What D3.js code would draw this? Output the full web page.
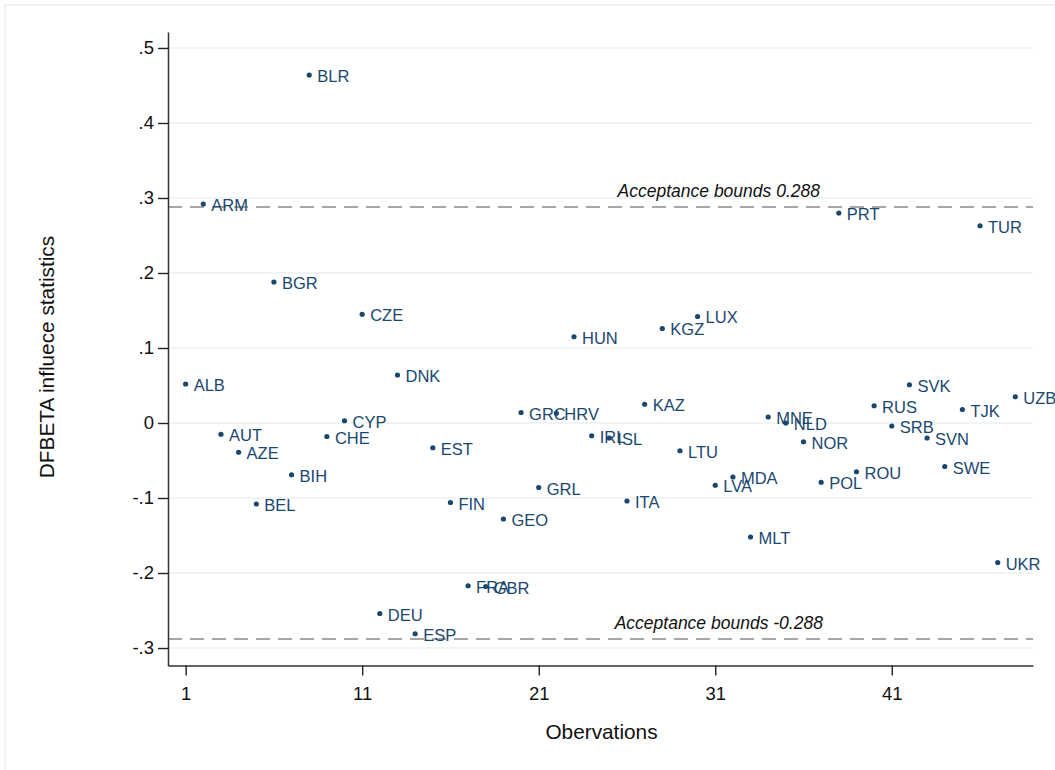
<!DOCTYPE html>
<html>
<head>
<meta charset="utf-8">
<script src="https://cdn.jsdelivr.net/npm/d3@7"></script>
<style>
  html, body { margin: 0; padding: 0; background: #fff; }
  svg { display: block; }
  text { font-family: "Liberation Sans", Arial, sans-serif; }
</style>
</head>
<body>
<svg id="chart" width="1055" height="770"></svg>
<script>
// ---- data ----
const countries = ["ALB","ARM","AUT","AZE","BEL","BGR","BIH","BLR","CHE","CYP",
  "CZE","DEU","DNK","ESP","EST","FIN","FRA","GBR","GEO","GRC",
  "GRL","HRV","HUN","IRL","ISL","ITA","KAZ","KGZ","LTU","LUX",
  "LVA","MDA","MLT","MNE","NLD","NOR","POL","PRT","ROU","RUS",
  "SRB","SVK","SVN","SWE","TJK","TUR","UKR","UZB"];
const observations = d3.range(1, countries.length + 1);
const dfbeta = [0.052, 0.292, -0.015, -0.039, -0.108, 0.188, -0.069, 0.464, -0.018, 0.003,
  0.145, -0.254, 0.064, -0.281, -0.033, -0.106, -0.217, -0.218, -0.128, 0.014,
  -0.086, 0.013, 0.115, -0.017, -0.020, -0.104, 0.025, 0.126, -0.037, 0.142,
  -0.083, -0.072, -0.152, 0.008, 0.000, -0.025, -0.079, 0.280, -0.065, 0.023,
  -0.004, 0.051, -0.020, -0.058, 0.018, 0.263, -0.186, 0.035];
const yTicks = [-0.3, -0.2, -0.1, 0, 0.1, 0.2, 0.3, 0.4, 0.5];
const yTickLabels = ["-.3", "-.2", "-.1", "0", ".1", ".2", ".3", ".4", ".5"];
const xTicks = [1, 11, 21, 31, 41];
const bounds = [0.288, -0.288];
const boundLabels = ["Acceptance bounds 0.288", "Acceptance bounds -0.288"];
const boundLabelX = 31.2;
const xTitle = "Obervations";
const yTitle = "DFBETA influece statistics";

// ---- layout ----
const svg = d3.select("#chart");
const mLeft = 168, mRight = 1033, mTop = 32, mBottom = 665.5;
const x = d3.scaleLinear().domain([0, 49]).range([mLeft, mRight]);
const y = d3.scaleLinear().domain([-0.3233, 0.5213]).range([mBottom, mTop]);
const navy = "#1a476f";

// outer frame
svg.append("rect").attr("x", 5).attr("y", 5).attr("width", 1100).attr("height", 800)
  .attr("fill", "none").attr("stroke", "#eaf0f4").attr("stroke-width", 1.6);

// gridlines
svg.append("g").selectAll("line").data(yTicks).join("line")
  .attr("x1", mLeft).attr("x2", mRight)
  .attr("y1", d => y(d)).attr("y2", d => y(d))
  .attr("stroke", "#eaf2f3").attr("stroke-width", 1.6);

// reference lines
svg.append("g").selectAll("line").data(bounds).join("line")
  .attr("x1", mLeft).attr("x2", mRight)
  .attr("y1", d => y(d)).attr("y2", d => y(d))
  .attr("stroke", "#8a8a8a").attr("stroke-width", 1.5)
  .attr("stroke-dasharray", "14,8");
svg.append("g").selectAll("text").data(bounds).join("text")
  .attr("x", x(boundLabelX)).attr("y", d => y(d) - 10)
  .attr("text-anchor", "middle").attr("font-style", "italic")
  .attr("font-size", 17.5).attr("fill", "#111")
  .text((d, i) => boundLabels[i]);

// axes
const yAxis = d3.axisLeft(y).tickValues(yTicks)
  .tickFormat(d => yTickLabels[yTicks.indexOf(d)])
  .tickSize(10).tickSizeOuter(0).tickPadding(4);
const gy = svg.append("g").attr("transform", `translate(${mLeft},0)`).call(yAxis);
const xAxis = d3.axisBottom(x).tickValues(xTicks).tickFormat(d3.format("d"))
  .tickSize(10).tickSizeOuter(0).tickPadding(11);
const gx = svg.append("g").attr("transform", `translate(0,${mBottom})`).call(xAxis);
[gx, gy].forEach(g => {
  g.select(".domain").attr("stroke", "#333").attr("stroke-width", 1.5);
  g.selectAll(".tick line").attr("stroke", "#222").attr("stroke-width", 1.4);
  g.selectAll(".tick text").attr("font-size", 18.5).attr("fill", "#111")
    .attr("font-family", "'Liberation Sans', Arial, sans-serif");
});

// axis titles
svg.append("text").attr("x", (mLeft + mRight) / 2 + 1).attr("y", 739)
  .attr("text-anchor", "middle").attr("font-size", 20.8).attr("fill", "#111").text(xTitle);
svg.append("text").attr("transform", "translate(54,357) rotate(-90)")
  .attr("text-anchor", "middle").attr("font-size", 20.8).attr("fill", "#111").text(yTitle);

// points and labels
const pts = svg.append("g").selectAll("g").data(countries).join("g")
  .attr("transform", (d, i) => `translate(${x(observations[i])},${y(dfbeta[i])})`);
pts.append("circle").attr("r", 2.6).attr("fill", navy);
pts.append("text").attr("x", 8).attr("y", 7)
  .attr("font-size", 16.5).attr("fill", navy).text(d => d);
</script>
</body>
</html>
